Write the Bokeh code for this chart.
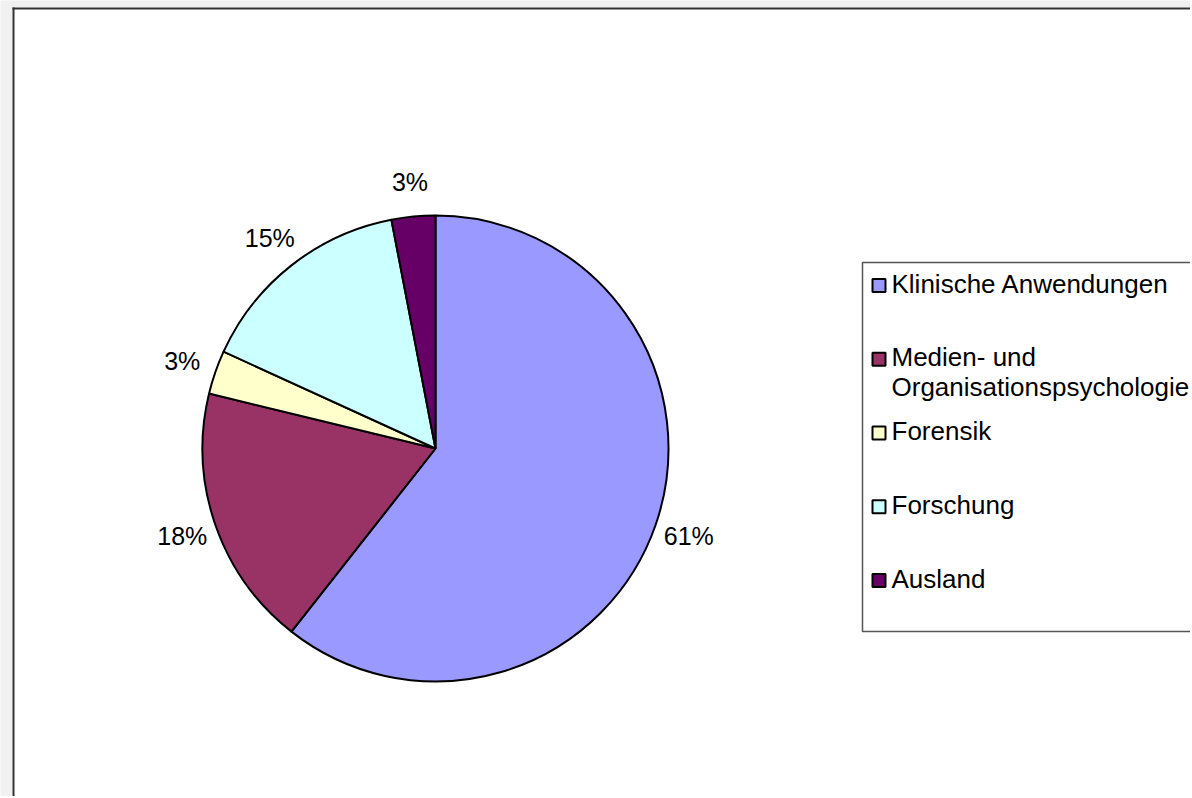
import math
from bokeh.plotting import figure
from bokeh.models import Range1d, ColumnDataSource
from bokeh.core.properties import value
from bokeh.embed import file_html
from bokeh.resources import INLINE

# ---- data ----
categories = ["Klinische Anwendungen", "Medien- und\nOrganisationspsychologie",
              "Forensik", "Forschung", "Ausland"]
counts = [20, 6, 1, 5, 1]
colors = ["#9999FF", "#993366", "#FFFFCC", "#CCFFFF", "#660066"]

# ---- layout (page pixel coordinates; data y = 798 - page y) ----
W, H = 1190, 796
def Y(page_y):
    return 798 - page_y

FONT = value("Liberation Sans")
cx, cy, r = 435, Y(448), 233
label_r = 268

p = figure(width=W, height=H, x_range=Range1d(0, W), y_range=Range1d(798 - H, 798),
           output_backend="svg", toolbar_location=None, min_border=0,
           x_axis_location=None, y_axis_location=None)
p.grid.visible = False
p.outline_line_color = None
p.background_fill_color = "#f1f1f1"
p.border_fill_color = "white"

# chart area and border
p.quad(left=[12], right=[1300], top=[Y(7)], bottom=[Y(900)], fill_color="white", line_color=None)
p.line(x=[13, 13], y=[Y(7), Y(900)], line_color="#333333", line_width=2)
p.line(x=[12, 1300], y=[Y(8), Y(8)], line_color="#333333", line_width=2)

# ---- pie ----
total = sum(counts)
starts, ends, lx, ly, ltxt = [], [], [], [], []
cum = 0
for c in counts:
    a0 = math.pi / 2 - 2 * math.pi * cum / total
    cum += c
    a1 = math.pi / 2 - 2 * math.pi * cum / total
    starts.append(a0)
    ends.append(a1)
    mid = (a0 + a1) / 2
    lx.append(cx + label_r * math.cos(mid))
    ly.append(cy + label_r * math.sin(mid))
    ltxt.append(f"{round(100 * c / total)}%")

src = ColumnDataSource(dict(start=starts, end=ends, color=colors))
p.wedge(x=cx, y=cy, radius=r, start_angle="start", end_angle="end", direction="clock",
        fill_color="color", line_color="black", line_width=2, source=src)

p.text(x=lx, y=ly, text=ltxt, text_align="center", text_baseline="middle",
       text_font=FONT, text_font_size="25px", text_color="black")

# ---- legend ----
p.quad(left=[862], right=[1300], top=[Y(262)], bottom=[Y(631)],
       fill_color="white", line_color="#555555", line_width=1.5)
row0, step, line_h = 283, 73.75, 30
tx, ty, tt = [], [], []
sq_y = []
for i, cat in enumerate(categories):
    yc = row0 + step * i
    sq_y.append(Y(yc + 2))
    for k, line in enumerate(cat.split("\n")):
        tx.append(891)
        ty.append(Y(yc + k * line_h))
        tt.append(line)
p.rect(x=[878.5] * len(categories), y=sq_y, width=13, height=13,
       fill_color=colors, line_color="black", line_width=2)
p.text(x=tx, y=ty, text=tt, text_align="left", text_baseline="middle",
       text_font=FONT, text_font_size="26px", text_color="black")

open("out.html", "w").write(file_html(p, INLINE))
